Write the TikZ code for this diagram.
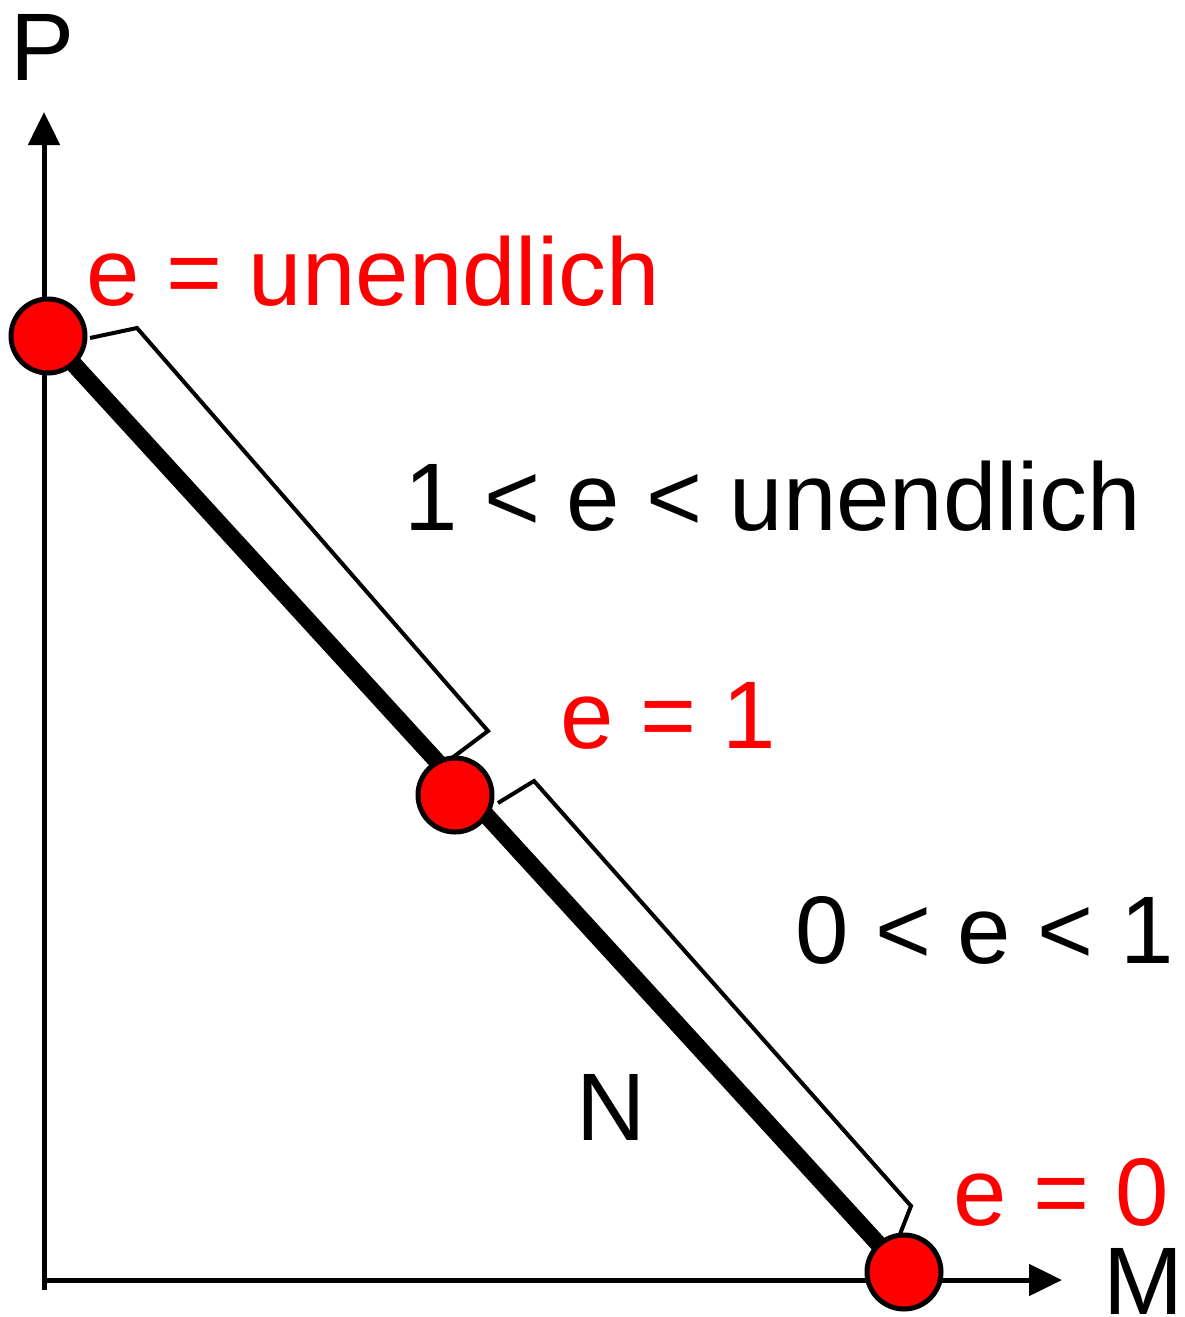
\documentclass[tikz,border=0pt]{standalone}
\usepackage{fontspec}
\setmainfont{Liberation Sans}
\usetikzlibrary{arrows.meta}
\begin{document}
\begin{tikzpicture}[x=1pt,y=-1pt,
  lbl/.style={anchor=base west,inner sep=0pt,font=\fontsize{96}{100}\selectfont},
  redlbl/.style={lbl,text={rgb,255:red,255;green,0;blue,0}},
  dot/.style={circle,draw=black,line width=5pt,fill={rgb,255:red,255;green,0;blue,0},minimum size=74pt,inner sep=0pt},
  axis/.style={line width=5pt,-{Triangle[length=33pt,width=31pt]}},
  brk/.style={line width=4pt,line join=miter}]
\useasboundingbox (0,0) rectangle (1184,1317);
% axes
\coordinate (ybot) at (44,1290);
\coordinate (ytop) at (44,112);
\coordinate (xl) at (44,1280);
\coordinate (xr) at (1062,1280);
\draw[axis] (ybot) -- (ytop);
\draw[axis] (xl) -- (xr);
% dots positions
\coordinate (c1) at (48,336);
\coordinate (c2) at (455,795);
\coordinate (c3) at (904,1272);
\draw[line width=17pt] (c1) -- (c3);
% brackets
\coordinate (b1a) at (90,338);
\coordinate (b1b) at (137,328);
\coordinate (b1c) at (488,731);
\coordinate (b1d) at (452,758);
\draw[brk] (b1a) -- (b1b) -- (b1c) -- (b1d);
\coordinate (b2a) at (498,803);
\coordinate (b2b) at (534,781);
\coordinate (b2c) at (911,1206);
\coordinate (b2d) at (900,1234);
\draw[brk] (b2a) -- (b2b) -- (b2c) -- (b2d);
\node[dot] (d1) at (c1) {};
\node[dot] (d2) at (c2) {};
\node[dot] (d3) at (c3) {};
% labels
\node[lbl] (P) at (10,80) {P};
\node[lbl] (M) at (1103,1314) {M};
\node[redlbl] (einf) at (86,305) {e = unendlich};
\node[lbl] (range1) at (404,530) {1 < e < unendlich};
\node[redlbl] (e1) at (560,748) {e = 1};
\node[lbl] (range0) at (795,963) {0 < e < 1};
\node[lbl] (N) at (576,1140) {N};
\node[redlbl] (e0) at (953,1225) {e = 0};
\end{tikzpicture}
\end{document}
